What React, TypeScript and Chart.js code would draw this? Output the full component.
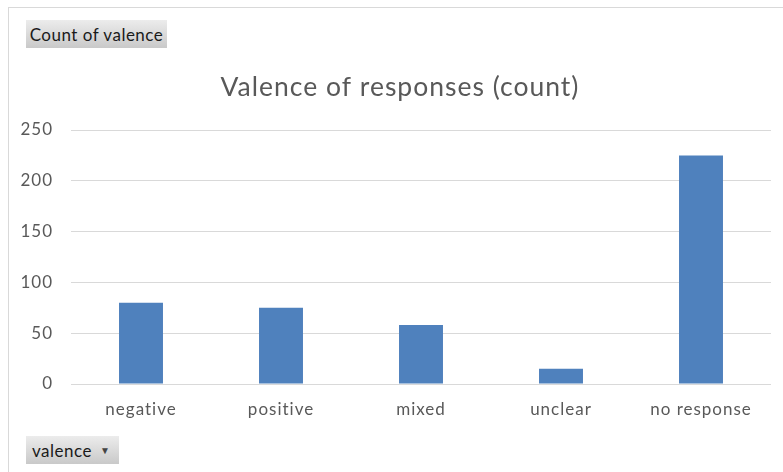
import React, { useEffect, useRef } from "react";
import { Chart, registerables } from "chart.js";

Chart.register(...registerables);

const categories = ["negative", "positive", "mixed", "unclear", "no response"];
const counts = [80, 75, 58, 15, 225];
const yTicks = [0, 50, 100, 150, 200, 250];
const chartTitle = "Valence of responses (count)";
const valueButton = "Count of valence";
const axisButton = "valence";

const FONT = "Lato, 'Noto Sans', sans-serif";

const spacingPlugin = {
  id: "letterSpacing",
  beforeUpdate(chart: any) {
    chart.ctx.letterSpacing = "1px";
  },
  afterLayout(chart: any) {
    const tb = chart.titleBlock;
    if (tb) {
      tb.left = 29;
      tb.right = chart.chartArea.right;
    }
  },
  beforeDraw(chart: any) {
    chart.ctx.letterSpacing = "1px";
  },
};

export default function App() {
  const ref = useRef<HTMLCanvasElement | null>(null);

  useEffect(() => {
    document.body.style.margin = "0";
    const ctx = ref.current!;
    const chart = new Chart(ctx, {
      type: "bar",
      data: {
        labels: categories,
        datasets: [
          {
            label: valueButton,
            data: counts,
            backgroundColor: "#4F81BD",
            borderWidth: 0,
            categoryPercentage: 1,
            barPercentage: 0.314,
          },
        ],
      },
      plugins: [spacingPlugin],
      options: {
        responsive: false,
        animation: false,
        maintainAspectRatio: false,
        layout: { padding: { left: 0, right: 12, top: 0, bottom: 0 } },
        plugins: {
          legend: { display: false },
          tooltip: { enabled: false },
          title: {
            display: true,
            text: chartTitle,
            color: "#595959",
            font: { family: FONT, size: 26.5, weight: "normal" },
            padding: { top: 71.1, bottom: 27.1 },
          },
        },
        scales: {
          x: {
            grid: { display: false, drawTicks: false },
            border: { display: false },
            ticks: {
              color: "#595959",
              font: { family: FONT, size: 17 },
              padding: 15,
              maxRotation: 0,
              autoSkip: false,
            },
            afterFit: (s: any) => {
              s.height = 88;
            },
          },
          y: {
            min: 0,
            max: 250,
            afterBuildTicks: (s: any) => {
              s.ticks = yTicks.map((v) => ({ value: v }));
            },
            grid: { color: "#D9D9D9", lineWidth: 1, drawTicks: false },
            border: { display: false },
            ticks: {
              color: "#595959",
              font: { family: FONT, size: 17 },
              padding: 18,
            },
            afterFit: (s: any) => {
              s.width = 71;
            },
          },
        },
      },
    });
    return () => chart.destroy();
  }, []);

  const btn: React.CSSProperties = {
    position: "absolute",
    background: "linear-gradient(#ececec, #c9c9c9)",
    color: "#1a1a1a",
    fontFamily: FONT,
    fontSize: 17,
    letterSpacing: "0.5px",
    display: "flex",
    alignItems: "center",
    boxSizing: "border-box",
    whiteSpace: "nowrap",
  };

  return (
    <div
      style={{
        position: "fixed",
        left: 0,
        top: 0,
        width: 783,
        height: 472,
        background: "#ffffff",
        overflow: "hidden",
      }}
    >
      <div
        style={{
          position: "absolute",
          left: 8,
          top: 7,
          width: 800,
          height: 500,
          borderLeft: "1px solid #d9d9d9",
          borderTop: "1px solid #d9d9d9",
        }}
      />
      <canvas
        ref={ref}
        width={783}
        height={472}
        style={{ position: "absolute", left: 0, top: 0, width: 783, height: 472 }}
      />
      <div style={{ ...btn, left: 26, top: 20, width: 141, height: 28, justifyContent: "center" }}>
        {valueButton}
      </div>
      <div style={{ ...btn, left: 26, top: 436, width: 93, height: 28, paddingLeft: 6, gap: 8 }}>
        <span>{axisButton}</span>
        <span style={{ fontSize: 10, color: "#444", letterSpacing: 0 }}>▼</span>
      </div>
    </div>
  );
}
